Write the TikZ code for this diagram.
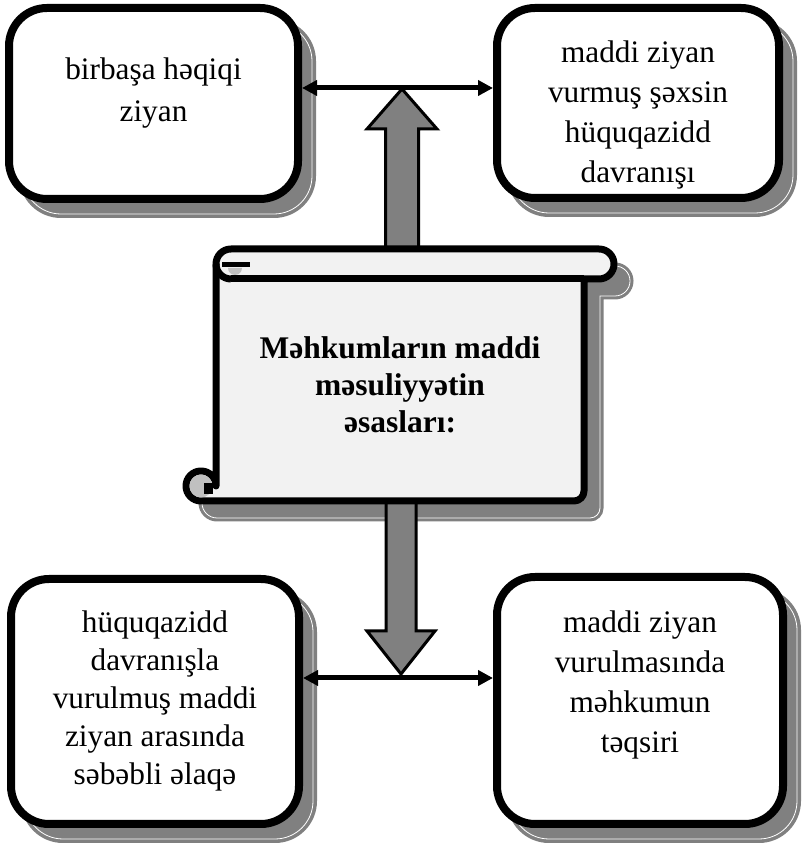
\documentclass[tikz,border=0pt]{standalone}
\usepackage{fontspec}
\setmainfont{Liberation Serif}
\usetikzlibrary{arrows.meta,positioning}
\definecolor{shadowgray}{HTML}{808080}
\definecolor{scrollfill}{HTML}{F2F2F2}
\definecolor{curlgray}{HTML}{C0C0C0}
\tikzset{
  card/.style={draw=black, line width=8pt, rounded corners=38pt, fill=white, inner sep=0pt},
  cardshadow/.style={draw=shadowgray, fill=shadowgray, double=white, double distance=0.8pt, line width=3.6pt, rounded corners=38pt, inner sep=0pt},
  cardtext/.style={align=center, inner sep=0pt, font=\fontsize{31.3}{40}\selectfont},
  titletext/.style={align=center, inner sep=0pt, anchor=north, font=\fontsize{31.5}{37}\selectfont\bfseries},
  scrollline/.style={draw=black, line width=7pt, line join=round},
  bigarrow/.style={draw=black, line width=3pt, fill=shadowgray, line join=miter},
  link/.style={{Triangle[length=15pt,width=15pt]}-{Triangle[length=15pt,width=15pt]}, line width=5pt}
}
\newcommand\scrollshape{(231,597) -- (599,597) arc[start angle=90, end angle=-90, radius=15]
  -- (584,567) -- (584,355) arc[start angle=0, end angle=-90, radius=10]
  -- (201,345) arc[start angle=-90, end angle=-360, radius=15]
  -- (216,582) arc[start angle=180, end angle=90, radius=15] -- cycle}

\begin{document}
\begin{tikzpicture}[x=1pt, y=1pt]
  \useasboundingbox (0,0) rectangle (801,846);

  % shadows
  \node[cardshadow, minimum width=289pt, minimum height=191pt] (tlshadow) at (167.5,727.5) {};
  \node[cardshadow, minimum width=282pt, minimum height=190pt] (trshadow) at (652,728) {};
  \node[cardshadow, minimum width=288pt, minimum height=245pt] (blshadow) at (169,129.5) {};
  \node[cardshadow, minimum width=286pt, minimum height=247pt] (brshadow) at (654,130.5) {};
  \begin{scope}[shift={(16,-17)}]
    \path[fill=shadowgray, draw=shadowgray, double=white, double distance=0.8pt, line width=3.1pt] \scrollshape;
  \end{scope}

  % the four cards
  \node[card, minimum width=289pt, minimum height=191pt] (tl) at (153.5,742.5) {};
  \node[card, minimum width=282pt, minimum height=190pt] (tr) at (638,743) {};
  \node[card, minimum width=288pt, minimum height=245pt] (bl) at (155,144.5) {};
  \node[card, minimum width=286pt, minimum height=247pt] (br) at (640,145.5) {};

  \node[cardtext, font=\fontsize{31.3}{42}\selectfont, below=53.6pt of tl.north] (tltext) {birbaşa həqiqi\\ziyan};
  \node[cardtext, below=36.6pt of tr.north] (trtext) {maddi ziyan\\vurmuş şəxsin\\hüquqazidd\\davranışı};
  \node[cardtext, font=\fontsize{31.3}{38}\selectfont, below=35.6pt of bl.north] (bltext) {hüquqazidd\\davranışla\\vurulmuş maddi\\ziyan arasında\\səbəbli əlaqə};
  \node[cardtext, below=37.6pt of br.north] (brtext) {maddi ziyan\\vurulmasında\\məhkumun\\təqsiri};

  % block arrows
  \coordinate (upjoin) at (402,758);
  \coordinate (downjoin) at (401,168);
  \draw[bigarrow] ([yshift=-1pt]upjoin) -- ++(35,-40) -- ++(-18.5,0) -- ++(0,-121) -- ++(-33,0) -- ++(0,121) -- ++(-18.5,0) -- cycle;
  \draw[bigarrow] ([yshift=4pt]downjoin) -- ++(34,43) -- ++(-19,0) -- ++(0,130) -- ++(-30,0) -- ++(0,-130) -- ++(-19,0) -- cycle;

  % scroll
  \draw[scrollline, fill=scrollfill] \scrollshape;
  \draw[scrollline] (231,567) -- (584,567);
  \draw[scrollline] (216,582) arc[start angle=180, end angle=270, radius=15];
  \fill[curlgray] (228,578) arc[start angle=180, end angle=360, radius=7] -- cycle;
  \draw[black, line width=5pt] (222,581) -- (250,581);
  \fill[curlgray] (201,360) circle[radius=11.5];
  \fill (204,352) rectangle (213,363);
  \node[titletext] (title) at (400,510) {Məhkumların maddi\\məsuliyyətin\\əsasları:};

  % links
  \draw[link] (upjoin -| tl.east) -- (upjoin -| tr.west);
  \draw[link] (downjoin -| bl.east) -- (downjoin -| br.west);
\end{tikzpicture}
\end{document}
